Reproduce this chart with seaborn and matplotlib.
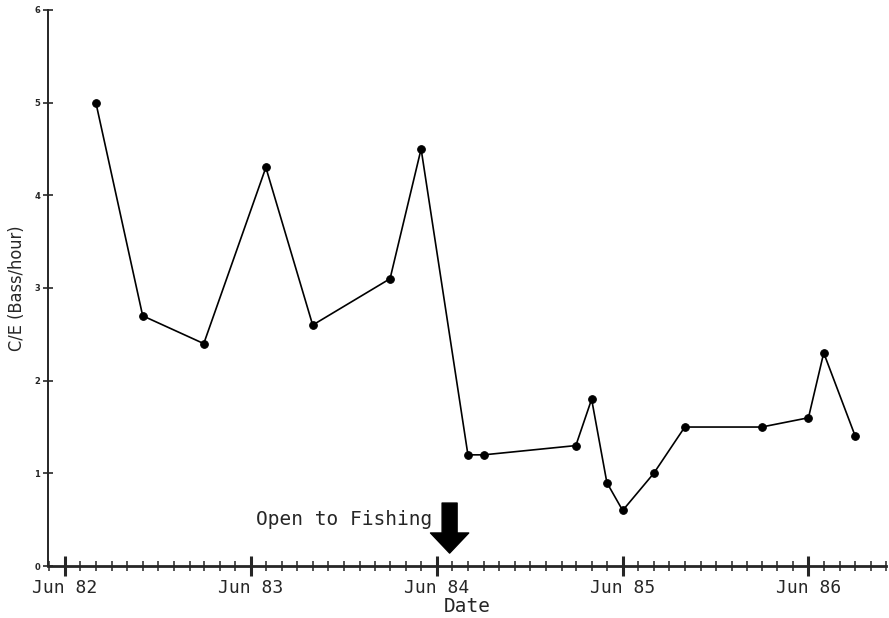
import matplotlib
matplotlib.use("Agg")
import matplotlib.pyplot as plt
import matplotlib.dates as mdates
from matplotlib import font_manager
import pandas as pd
import seaborn as sns

# Survey dates and catch per effort
dates = ["1982-08-01", "1982-11-01", "1983-03-01", "1983-07-01", "1983-10-01",
         "1984-03-01", "1984-05-01", "1984-08-01", "1984-09-01", "1985-03-01",
         "1985-04-01", "1985-05-01", "1985-06-01", "1985-08-01", "1985-10-01",
         "1986-03-01", "1986-06-01", "1986-07-01", "1986-09-01"]
cpe = [5.0, 2.7, 2.4, 4.3, 2.6, 3.1, 4.5, 1.2, 1.2, 1.3,
       1.8, 0.9, 0.6, 1.0, 1.5, 1.5, 1.6, 2.3, 1.4]
year_labels = ["Jun 82", "Jun 83", "Jun 84", "Jun 85", "Jun 86"]
y_ticks = [0, 1, 2, 3, 4, 5, 6]
opening_date = "1984-06-26"

df = pd.DataFrame({"date": pd.to_datetime(dates), "cpe": cpe})

sns.set_style("ticks")
installed = {f.name for f in font_manager.fontManager.ttflist}
narrow = "Liberation Sans Narrow" if "Liberation Sans Narrow" in installed else "DejaVu Sans"
mono = "DejaVu Sans Mono"

fig = plt.figure(figsize=(8.89, 6.18), dpi=100)
ax = fig.add_axes([0.054, 0.084, 0.943, 0.9])

sns.lineplot(data=df, x="date", y="cpe", ax=ax, color="black", linewidth=1.2,
             marker="o", markersize=5.5, markeredgecolor="black")

ax.set_ylim(0, 6)
ax.set_xlim(pd.Timestamp("1982-04-29"), pd.Timestamp("1986-11-01"))
sns.despine(ax=ax)
ax.spines["left"].set_linewidth(1.4)
ax.spines["bottom"].set_linewidth(2.0)

# y axis
ax.set_yticks(y_ticks)
ax.set_yticklabels([str(v) for v in y_ticks], fontsize=6, fontweight="bold")
ax.tick_params(axis="y", direction="inout", length=7, width=1.2, pad=2)

# x axis: June majors, monthly minors
ax.xaxis.set_minor_locator(mdates.MonthLocator())
ax.set_xticks(pd.to_datetime(["1982-06-01", "1983-06-01", "1984-06-01",
                              "1985-06-01", "1986-06-01"]))
ax.set_xticklabels(year_labels, fontsize=13, family=mono)
ax.tick_params(axis="x", which="major", direction="inout", length=14, width=2.2, pad=2)
ax.tick_params(axis="x", which="minor", direction="inout", length=7, width=1.1)

ax.set_xlabel("Date", fontsize=14, family=mono, labelpad=0)
ax.set_ylabel("C/E (Bass/hour)", fontsize=13, family=narrow, fontstretch="condensed",
              labelpad=6)

# opening marker
od = pd.Timestamp(opening_date)
ax.annotate("", xy=(od, 0.14), xytext=(od, 0.68),
            arrowprops=dict(arrowstyle="simple,head_length=1.45,head_width=2.75,tail_width=1.08",
                            mutation_scale=10, color="black", shrinkA=0, shrinkB=0))
ax.text(pd.Timestamp("1984-05-22"), 0.5, "Open to Fishing", ha="right", va="center",
        fontsize=14, family=mono)

fig.savefig("out.png", dpi=100)
